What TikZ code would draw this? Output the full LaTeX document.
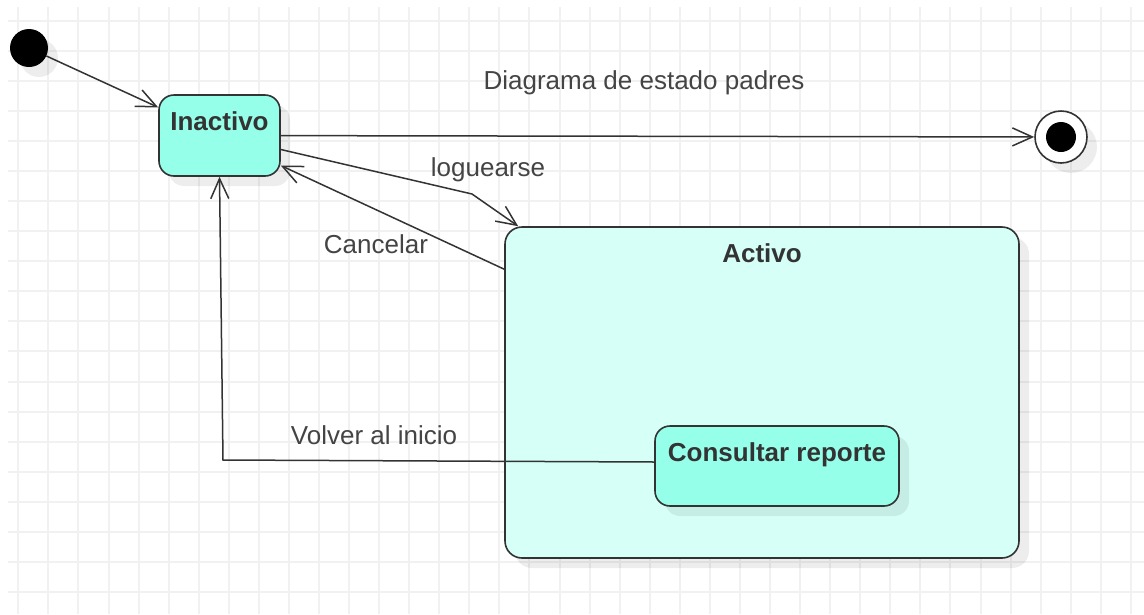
\documentclass[tikz,border=0pt]{standalone}
\usepackage{fontspec}
\setmainfont{Liberation Sans}
\usepackage{xcolor}
\usetikzlibrary{arrows.meta,positioning,shadows}
\definecolor{ink}{HTML}{333333}
\definecolor{labelgray}{HTML}{444444}
\definecolor{statefill}{HTML}{96FFEA}
\definecolor{superfill}{HTML}{D5FFF7}
\definecolor{gridgray}{HTML}{F1F1F1}

\begin{document}
\begin{tikzpicture}[
  x=1pt, y=-1pt,
  font=\fontsize{26}{30}\selectfont,
  softshadow/.style={drop shadow={shadow xshift=10pt, shadow yshift=-10pt,
    fill=black, opacity=0.07}},
  state/.style={draw=ink, line width=1.6pt, fill=statefill,
    rounded corners=15pt, inner sep=0pt, softshadow},
  superstate/.style={draw=ink, line width=1.6pt, fill=superfill,
    rounded corners=17pt, inner sep=0pt, softshadow},
  statename/.style={font=\fontsize{26}{30}\selectfont\bfseries, text=ink,
    inner sep=0pt},
  initial/.style={circle, fill=black, minimum size=38pt, inner sep=0pt,
    softshadow},
  finalring/.style={circle, draw=ink, line width=1.6pt, fill=white,
    minimum size=52pt, inner sep=0pt, softshadow},
  finaldot/.style={circle, fill=black, minimum size=30pt, inner sep=0pt},
  edgelabel/.style={text=labelgray, inner sep=0pt, anchor=base},
  gridline/.style={draw=gridgray, line width=2pt},
  flow/.style={draw=ink, line width=1.5pt,
    -{Straight Barb[length=20pt, width=18pt]}}
]
\useasboundingbox (0,0) rectangle (1144,614);
\fill[white] (0,0) rectangle (1144,614);
% grid
\foreach \gx in {0,...,37}
  \draw[gridline] (18.3+30.07*\gx,7) -- (18.3+30.07*\gx,614);
\foreach \gy in {0,...,19}
  \draw[gridline] (8,20.7+30.07*\gy) -- (1144,20.7+30.07*\gy);
% states
\node[initial] (init) at (29,48) {};
\node[state, minimum width=121pt, minimum height=81pt] (inactivo)
  at (219.5,135.5) {};
\node[statename, below=17pt of inactivo.north] (inactivotxt) {Inactivo};
\node[finalring] (final) at (1061,137) {};
\node[finaldot] (finalcore) at (final) {};
\node[superstate, minimum width=514pt, minimum height=331pt] (activo)
  at (762,392.5) {};
\node[statename, below=17pt of activo.north] (activotxt) {Activo};
\node[state, minimum width=244pt, minimum height=80pt] (consultar)
  at (777,466) {};
\node[statename, below=17pt of consultar.north] (consultartxt)
  {Consultar reporte};
% labels
\node[edgelabel] (titulo) at (644,89) {Diagrama de estado padres};
\node[edgelabel] (loglbl) at (488,176) {loguearse};
\node[edgelabel] (cancellbl) at (376,253) {Cancelar};
\node[edgelabel] (volverlbl) at (374,444) {Volver al inicio};
% transitions
\coordinate (logbend) at (472,194);
\coordinate (volverbend) at (223,460);
\draw[flow] (init) -- (inactivo);
\draw[flow] (inactivo) -- (final);
\draw[flow] ([yshift=-14pt]inactivo.east) -- (logbend)
  -- ([xshift=14pt]activo.north west);
\draw[flow] ([yshift=-43pt]activo.north west) -- ([yshift=-30pt]inactivo.east);
\draw[flow] ([yshift=4pt]consultar.west) -- (volverbend) -- (inactivo.south);
\end{tikzpicture}
\end{document}
